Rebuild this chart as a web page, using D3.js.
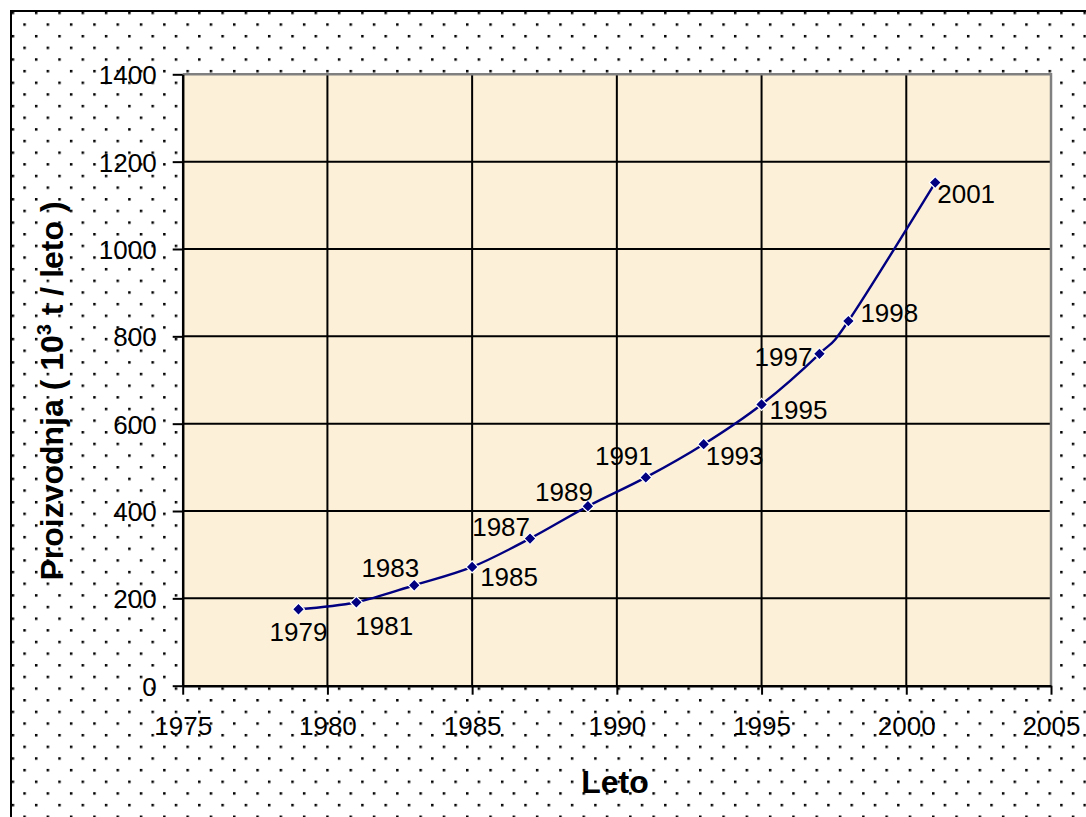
<!DOCTYPE html>
<html>
<head>
<meta charset="utf-8">
<script src="https://cdn.jsdelivr.net/npm/d3@7"></script>
<style>
  html, body { margin: 0; padding: 0; background: #fff; }
  svg { display: block; font-family: "Liberation Sans", Arial, sans-serif; }
</style>
</head>
<body>
<svg id="chart" width="1086" height="817"></svg>
<script>
// Proizvodnja po letih (10^3 t / leto)
const years = [1979, 1981, 1983, 1985, 1987, 1989, 1991, 1993, 1995, 1997, 1998, 2001];
const production = [175, 191, 230, 272, 337, 411, 477, 553, 644, 760, 835, 1152];

const xTicks = [1975, 1980, 1985, 1990, 1995, 2000, 2005];
const yTicks = [0, 200, 400, 600, 800, 1000, 1200, 1400];

// where each point label sits relative to its marker
const labelPlace = {
  1979: { anchor: 'middle', dx: 0,  dy: 32 },
  1981: { anchor: 'start',  dx: -1, dy: 33 },
  1983: { anchor: 'end',    dx: 5,  dy: -8 },
  1985: { anchor: 'start',  dx: 8,  dy: 19 },
  1987: { anchor: 'end',    dx: 0,  dy: -3 },
  1989: { anchor: 'end',    dx: 5,  dy: -5 },
  1991: { anchor: 'end',    dx: 7,  dy: -12 },
  1993: { anchor: 'start',  dx: 2,  dy: 21 },
  1995: { anchor: 'start',  dx: 8,  dy: 15 },
  1997: { anchor: 'end',    dx: -7, dy: 12 },
  1998: { anchor: 'start',  dx: 12, dy: 1 },
  2001: { anchor: 'start',  dx: 2,  dy: 20 },
};

const data = years.map((y, i) => ({ year: y, value: production[i] }));

const svg = d3.select('#chart');
const plot = { left: 182.7, top: 74.3, right: 1051, bottom: 685.7 };

const x = d3.scaleLinear().domain([1975, 2005]).range([plot.left, plot.right]);
const y = d3.scaleLinear().domain([0, 1400]).range([plot.bottom, plot.top]);

// dotted chart-area background
const defs = svg.append('defs');
const s = 23.3;
const pat = defs.append('pattern').attr('id', 'dots')
  .attr('patternUnits', 'userSpaceOnUse').attr('width', s).attr('height', s)
  .attr('x', 0).attr('y', 0);
pat.append('rect').attr('width', s).attr('height', s).attr('fill', '#fff');
pat.append('rect').attr('x', 0).attr('y', 0).attr('width', 2.5).attr('height', 2.5).attr('fill', '#000');
pat.append('rect').attr('x', s / 2).attr('y', s / 2).attr('width', 2.5).attr('height', 2.5).attr('fill', '#000');

svg.append('rect').attr('width', 1086).attr('height', 817).attr('fill', '#fff');
svg.append('rect')
  .attr('x', 11).attr('y', 11).attr('width', 1200).attr('height', 1000)
  .attr('fill', 'url(#dots)').attr('stroke', '#000').attr('stroke-width', 2);

// plot area
svg.append('rect')
  .attr('x', plot.left).attr('y', plot.top)
  .attr('width', plot.right - plot.left).attr('height', plot.bottom - plot.top)
  .attr('fill', '#fcf0d9');

// gridlines
const grid = svg.append('g').attr('stroke', '#000').attr('stroke-width', 2);
grid.selectAll('.gx').data(xTicks.filter(t => t > 1975 && t < 2005)).join('line')
  .attr('x1', d => x(d)).attr('x2', d => x(d))
  .attr('y1', plot.top).attr('y2', plot.bottom);
grid.selectAll('.gy').data(yTicks.filter(t => t > 0 && t < 1400)).join('line')
  .attr('x1', plot.left).attr('x2', plot.right)
  .attr('y1', d => y(d)).attr('y2', d => y(d));

// top/right border in grey
svg.append('path')
  .attr('d', `M${plot.left},${plot.top} H${plot.right} V${plot.bottom}`)
  .attr('fill', 'none').attr('stroke', '#808080').attr('stroke-width', 2.5);

// axes
const yAxis = svg.append('g').attr('transform', `translate(${plot.left},0)`)
  .call(d3.axisLeft(y).tickValues(yTicks).tickSize(10).tickSizeOuter(0).tickPadding(16).tickFormat(d3.format('d')));
const xAxis = svg.append('g').attr('transform', `translate(0,${plot.bottom})`)
  .call(d3.axisBottom(x).tickValues(xTicks).tickSize(9).tickSizeOuter(0).tickPadding(22).tickFormat(d3.format('d')));

[yAxis, xAxis].forEach(a => {
  a.select('.domain').attr('stroke', '#000').attr('stroke-width', 2.5);
  a.selectAll('.tick line').attr('stroke', '#000').attr('stroke-width', 2);
  a.selectAll('.tick text').attr('fill', '#000')
    .style('font-size', '26px').style('font-family', '"Liberation Sans", Arial, sans-serif');
});
yAxis.selectAll('.tick text').attr('dy', '0.36em');

// axis titles
svg.append('text')
  .attr('x', 615).attr('y', 793)
  .attr('text-anchor', 'middle')
  .style('font-size', '32px').style('font-weight', 'bold')
  .text('Leto');

const yt = svg.append('text')
  .attr('transform', 'translate(63,391) rotate(-90)')
  .attr('text-anchor', 'middle')
  .style('font-size', '32px').style('font-weight', 'bold');
yt.append('tspan').text('Proizvodnja ( 10');
yt.append('tspan').attr('dy', -12).style('font-size', '20px').text('3');
yt.append('tspan').attr('dy', 12).text(' t / leto )');

// smoothed line
const line = d3.line()
  .x(d => x(d.year)).y(d => y(d.value))
  .curve(d3.curveCatmullRom.alpha(0));

svg.append('path').datum(data)
  .attr('d', line)
  .attr('fill', 'none').attr('stroke', '#000080').attr('stroke-width', 2.4);

// diamond markers
svg.selectAll('.marker').data(data).join('path')
  .attr('class', 'marker')
  .attr('d', d3.symbol(d3.symbolSquare, 72)())
  .attr('transform', d => `translate(${x(d.year)},${y(d.value)}) rotate(45)`)
  .attr('fill', '#000080').attr('stroke', '#fff').attr('stroke-width', 1.2);

// point labels
svg.selectAll('.plabel').data(data).join('text')
  .attr('class', 'plabel')
  .attr('x', d => x(d.year) + labelPlace[d.year].dx)
  .attr('y', d => y(d.value) + labelPlace[d.year].dy)
  .attr('text-anchor', d => labelPlace[d.year].anchor)
  .style('font-size', '26px')
  .attr('fill', '#000')
  .text(d => d.year);
</script>
</body>
</html>
